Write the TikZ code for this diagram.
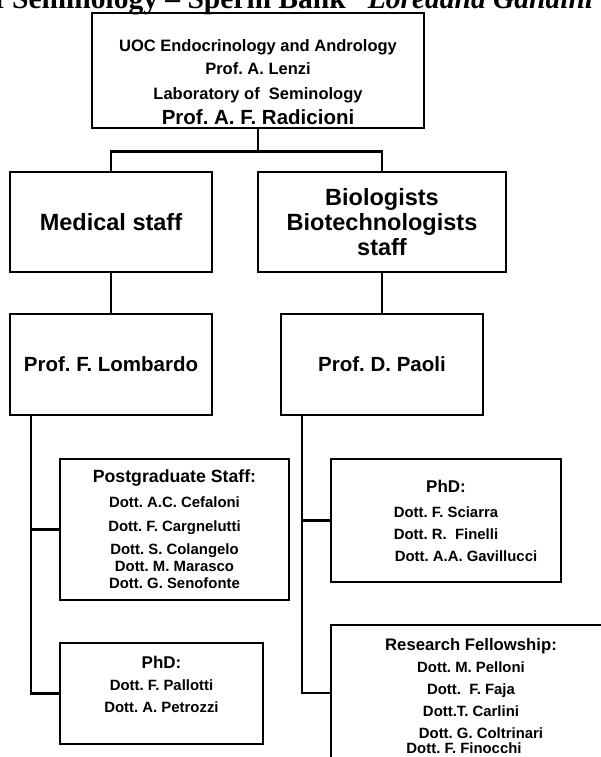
\documentclass[tikz,border=0pt]{standalone}
\usepackage{fontspec}
\setmainfont{Liberation Sans}
\newfontfamily\serifbold{Liberation Serif}

\begin{document}
\frenchspacing
\begin{tikzpicture}[x=1pt, y=-1pt,
	box/.style={draw, line width=2.8pt, inner sep=0pt, align=center},
	wire/.style={line width=2.2pt},
	big/.style={font=\bfseries\fontsize{23.5}{25}\selectfont},
	mid/.style={font=\bfseries\fontsize{20.5}{24}\selectfont},
	small/.style={font=\bfseries\fontsize{14.9}{22}\selectfont, align=center}]
	\clip (0,0) rectangle (601,757);
	\node[anchor=base west, inner sep=0pt, font=\serifbold\bfseries\fontsize{29.5}{30}\selectfont] (t) at (-20,8.5) {of Seminology – Sperm Bank \textit{“Loredana Gandini”}};
	\node[box, minimum width=332, minimum height=115] (0) at (258,70.5) {};
	\node[align=center, font=\bfseries\fontsize{16.5}{24}\selectfont] (10) at (258,82.5) {UOC Endocrinology and Andrology\\[-1pt] Prof. A. Lenzi\\[1pt] Laboratory of\ \ Seminology\\[1pt] {\fontsize{20.5}{24}\selectfont Prof. A. F. Radicioni}};
	\node[box, big, minimum width=202, minimum height=100] (1) at (111,222) {Medical staff};
	\node[box, big, minimum width=248, minimum height=100] (2) at (382,222) {Biologists\\ Biotechnologists\\ staff};
	\node[box, mid, minimum width=202, minimum height=101] (3) at (111,364.5) {Prof. F. Lombardo};
	\node[box, mid, minimum width=202, minimum height=101] (4) at (382,364.5) {Prof. D. Paoli};
	\node[box, small, minimum width=229, minimum height=141] (5) at (174.5,529.5) {{\fontsize{17.7}{22}\selectfont Postgraduate Staff:}\\[3pt] Dott. A.C. Cefaloni\\[2pt] Dott. F. Cargnelutti\\[1pt] Dott. S. Colangelo\\[-5pt] Dott. M. Marasco\\[-5pt] Dott. G. Senofonte};
	\node[box, minimum width=203, minimum height=101] (6) at (161.5,693.5) {};
	\node[small] (16) at (161.5,684) {{\fontsize{17}{22}\selectfont PhD:}\\ Dott. F. Pallotti\\ Dott. A. Petrozzi};
	\node[box, small, minimum width=230, minimum height=123] (7) at (446,520.5) {{\fontsize{17}{22}\selectfont PhD:}\\[3pt] Dott. F. Sciarra\\ Dott. R.\ \ Finelli\\ \hspace*{40pt}Dott. A.A. Gavillucci};
	\node[box, minimum width=309, minimum height=136] (8) at (485.5,693) {};
	\node[small] (18) at (471,696.5) {{\fontsize{16.7}{22}\selectfont Research Fellowship:}\\ Dott. M. Pelloni\\ Dott.\ \ F. Faja\\ Dott.T. Carlini\\ \hspace*{20pt}Dott. G. Coltrinari\\[-7pt] Dott. F. Finocchi\hspace*{14pt}};
	% connectors
	\draw[wire] (0.south) -- ++(0,22) coordinate (j);
	\draw[wire] (1.north) |- (j) -| (2.north);
	\draw[wire] (1) -- (3);
	\draw[wire] (2) -- (4);
	\coordinate (l) at (31,0);
	\coordinate (r) at (302,0);
	\draw[wire] (3.south -| l) |- (6.west);
	\draw[wire] (5.west) -- (5.west -| l);
	\draw[wire] (4.south -| r) |- (8.west);
	\draw[wire] (7.west) -- (7.west -| r);
\end{tikzpicture}
\end{document}
